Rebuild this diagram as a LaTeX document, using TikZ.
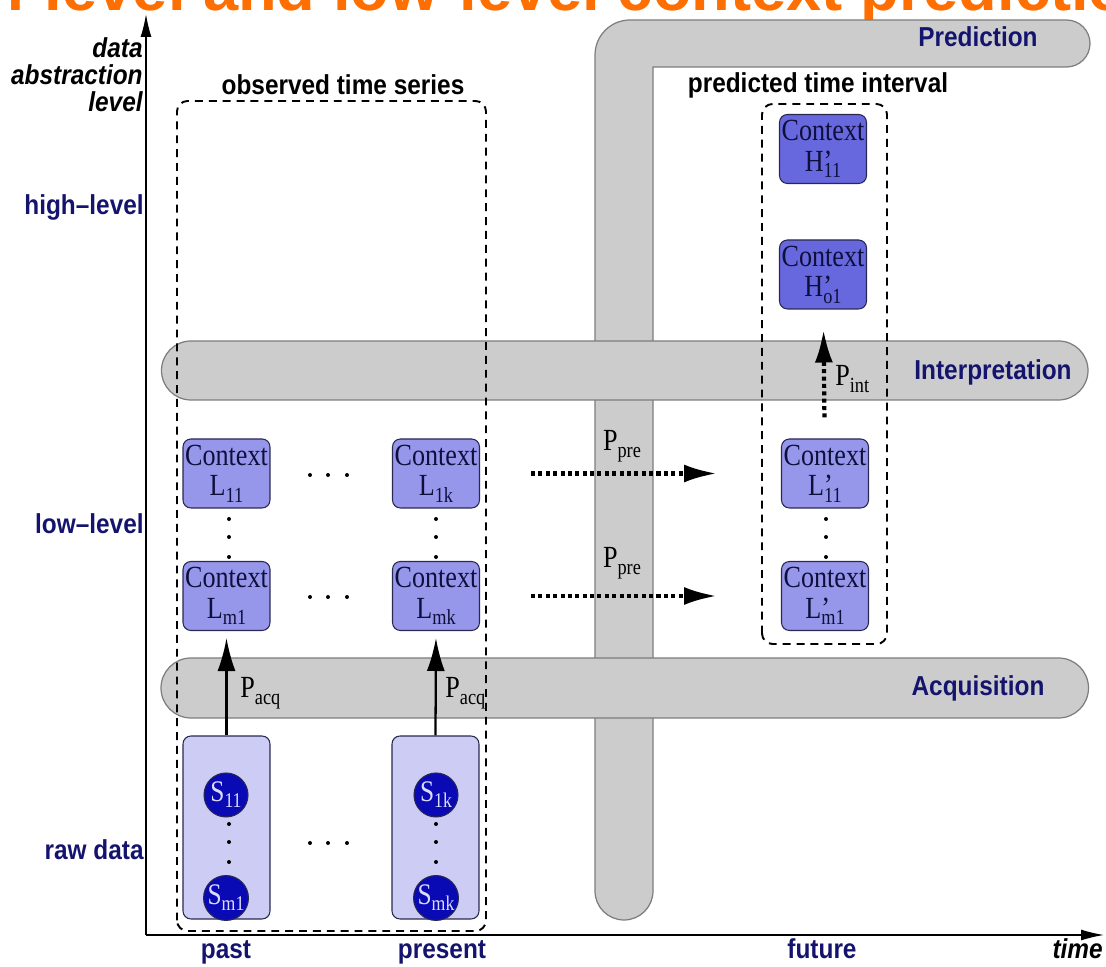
\documentclass[tikz,border=0pt]{standalone}
\usepackage{fontspec}
\usepackage{graphicx}
\setmainfont{Liberation Serif}[FakeStretch=0.85]
\setsansfont{Liberation Sans}[FakeStretch=0.89]
\newfontfamily\titlefont{Liberation Sans}
\usetikzlibrary{arrows.meta}

\definecolor{navytext}{RGB}{20,20,110}
\definecolor{bandgray}{RGB}{204,204,204}
\definecolor{bandline}{RGB}{125,125,125}
\definecolor{ctxlow}{RGB}{150,150,235}
\definecolor{ctxhigh}{RGB}{104,104,222}
\definecolor{ctxline}{RGB}{40,40,80}
\definecolor{ctxtext}{RGB}{15,15,60}
\definecolor{sensfill}{RGB}{204,204,245}
\definecolor{sensblue}{RGB}{10,10,180}
\definecolor{senstext}{RGB}{220,220,255}
\definecolor{titleorange}{RGB}{255,110,0}

\newcommand{\subidx}[1]{\raisebox{-0.2em}{\scalebox{0.7}{#1}}}

\begin{document}
\begin{tikzpicture}[x=0.02cm, y=0.02cm,
		band/.style={fill=bandgray, draw=bandline, line width=0.7pt},
		bandlabel/.style={font=\sffamily\bfseries\fontsize{15.6}{17}\selectfont, text=navytext, inner sep=0pt},
		serieslabel/.style={font=\sffamily\bfseries\fontsize{15.6}{17}\selectfont, inner sep=0pt},
		seriesbox/.style={draw, line width=1.1pt, dash pattern=on 4.5pt off 3.4pt, rounded corners=6pt},
		ctx/.style={rectangle, rounded corners=4.5pt, draw=ctxline, line width=0.6pt, fill=ctxlow, minimum width=1.74cm, minimum height=1.38cm, inner sep=0pt, align=center, text=ctxtext, font=\fontsize{17.5}{17.5}\selectfont},
		ctxhi/.style={ctx, fill=ctxhigh},
		sensbox/.style={rectangle, rounded corners=4.5pt, draw=ctxline, line width=0.6pt, fill=sensfill, minimum width=1.74cm, minimum height=3.66cm},
		sensor/.style={circle, draw=ctxline, line width=0.6pt, fill=sensblue, minimum size=0.88cm, inner sep=0pt, text=senstext, font=\fontsize{17}{17}\selectfont},
		plabel/.style={font=\fontsize{17.5}{17.5}\selectfont, inner sep=0pt},
		acqarrow/.style={-{Latex[length=0.66cm, width=0.36cm]}, line width=1.3pt},
		prearrow/.style={-{Latex[length=0.66cm, width=0.36cm]}, line width=2.4pt, dash pattern=on 2.3pt off 1.9pt},
		axisarrow/.style={-{Latex[length=0.46cm, width=0.22cm]}, line width=0.8pt}]

	\useasboundingbox (0,0) rectangle (1106,967);
	\clip (0,0) rectangle (1106,967);

	% Titulo (cortado arriba)
	\node[anchor=base west, inner sep=0pt, text=titleorange, font=\titlefont\bfseries\fontsize{36}{40}\selectfont] (titulo) at (-117,956) {High-level and low-level context prediction};

	% Bandas
	\draw[band] (653,76) arc[start angle=0, end angle=-180, radius=29] -- (595,912)
		arc[start angle=180, end angle=90, radius=35] -- (1066.5,947)
		arc[start angle=90, end angle=-90, radius=23.5] -- (653,900) -- cycle;
	\draw[band] (191,626) -- (1058.5,626) arc[start angle=90, end angle=-90, radius=29.5]
		-- (191,567) arc[start angle=270, end angle=90, radius=29.5] -- cycle;
	\draw[band] (191,309) -- (1058.5,309) arc[start angle=90, end angle=-90, radius=30]
		-- (191,249) arc[start angle=270, end angle=90, radius=30] -- cycle;
	\node[bandlabel] (predlbl) at (978,930) {Prediction};
	\node[bandlabel] (interlbl) at (993,595) {Interpretation};
	\node[bandlabel] (acqlbl) at (978,279) {Acquisition};

	% Ejes
	\coordinate (origin) at (146,32);
	\coordinate (ytop) at (146,953);
	\coordinate (xend) at (1104,32);
	\draw[axisarrow] (origin) -- (ytop);
	\draw[axisarrow] (origin) -- (xend);
	\node[align=right, anchor=east, inner sep=0pt, font=\sffamily\bfseries\itshape\fontsize{15.6}{15.3}\selectfont] (axislbl) at (143,892) {data\\abstraction\\level};
	\node[bandlabel, anchor=east] (highlbl) at (144,760) {high--level};
	\node[bandlabel, anchor=east] (lowlbl) at (144,443) {low--level};
	\node[bandlabel, anchor=east] (rawlbl) at (144,117) {raw data};
	\node[bandlabel, anchor=base] (past) at (226,8) {past};
	\node[bandlabel, anchor=base] (present) at (442,8) {present};
	\node[bandlabel, anchor=base] (future) at (822,8) {future};
	\node[serieslabel, anchor=base east, font=\sffamily\bfseries\itshape\fontsize{15.6}{17}\selectfont] (timelbl) at (1103,8) {time};

	% Series observada y predicha
	\draw[seriesbox] (177,36) rectangle (486,866);
	\draw[seriesbox] (762,323) rectangle (887,863);
	\node[serieslabel] (obslbl) at (343,882) {observed time series};
	\node[serieslabel] (predintlbl) at (818,882) {predicted time interval};

	% Sensores
	\node[sensbox] (sens1) at (226.5,139.5) {};
	\node[sensbox] (sensk) at (435.5,139.5) {};
	\node[sensor] (S11) at (226,172) {S\subidx{11}};
	\node[sensor] (Sm1) at (226,69) {S\subidx{m1}};
	\node[sensor] (S1k) at (436,172) {S\subidx{1k}};
	\node[sensor] (Smk) at (436,69) {S\subidx{mk}};

	% Contextos
	\node[ctx] (L11) at (226.5,493.5) {Context\\L\subidx{11}};
	\node[ctx] (L1k) at (436,493.5) {Context\\L\subidx{1k}};
	\node[ctx] (Lm1) at (226.5,371) {Context\\L\subidx{m1}};
	\node[ctx] (Lmk) at (436,371) {Context\\L\subidx{mk}};
	\node[ctx] (Lp11) at (825,493.5) {Context\\L\rlap{’}\subidx{11}};
	\node[ctx] (Lpm1) at (825,371) {Context\\L\rlap{’}\subidx{m1}};
	\node[ctxhi] (Ho1) at (823,692.5) {Context\\H\rlap{’}\subidx{o1}};
	\node[ctxhi] (H11) at (823,818) {Context\\H\rlap{’}\subidx{11}};

	% Puntos suspensivos
	\foreach \x in {229,436,826} \foreach \y in {448,430,410} \fill (\x,\y) circle[radius=2];
	\foreach \x in {229,436} \foreach \y in {143,125,105} \fill (\x,\y) circle[radius=2];
	\foreach \x in {310,328,347} \foreach \y in {492,370,124} \fill (\x,\y) circle[radius=2];

	% Flechas
	\draw[acqarrow, shorten >=0.14cm] (sens1.north) -- (Lm1.south);
	\draw[acqarrow, shorten >=0.14cm] (sensk.north) -- (Lmk.south);
	\draw[prearrow, shorten <=1.02cm, shorten >=1.28cm] (L1k) -- (Lp11);
	\draw[prearrow, shorten <=1.02cm, shorten >=1.28cm] (Lmk) -- (Lpm1);
	\draw[prearrow, shorten <=0.42cm, shorten >=0.4cm] (Lp11) -- (Ho1);
	\node[plabel, anchor=base west] (pacq1) at (240,269) {P\subidx{acq}};
	\node[plabel, anchor=base west] (pacqk) at (445,269) {P\subidx{acq}};
	\node[plabel, anchor=base] (ppre1) at (622,516) {P\subidx{pre}};
	\node[plabel, anchor=base] (ppre2) at (622,399) {P\subidx{pre}};
	\node[plabel, anchor=base west] (pint) at (835,581) {P\subidx{int}};

\end{tikzpicture}
\end{document}
